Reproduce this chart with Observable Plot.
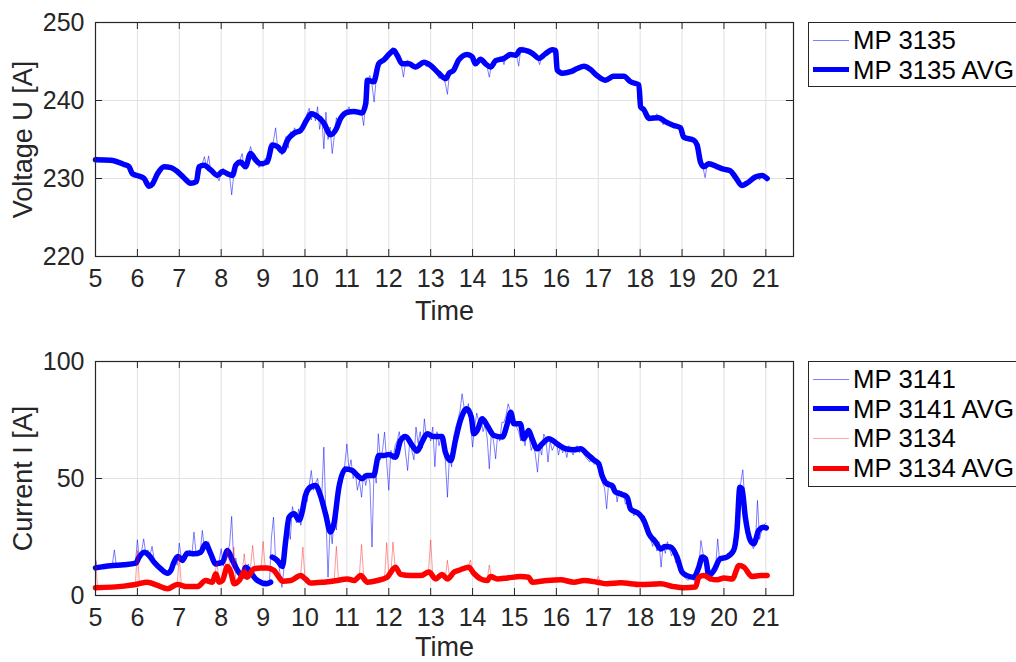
<!DOCTYPE html>
<html><head><meta charset="utf-8">
<script src="https://cdn.jsdelivr.net/npm/d3@7"></script>
<script src="https://cdn.jsdelivr.net/npm/@observablehq/plot@0.6"></script>
<style>
html,body{margin:0;padding:0;background:#fff;}
body{width:1016px;height:662px;overflow:hidden;position:relative;font-family:"Liberation Sans",Arial,Helvetica,sans-serif;}
.panel{position:absolute;left:0;}
.legend{position:absolute;left:808px;width:240px;border:1px solid #262626;background:#fff;box-sizing:border-box;}
.row{position:absolute;left:0;height:30px;width:240px;}
.swatch{position:absolute;left:4px;width:36px;top:50%;}
.label{position:absolute;left:44px;top:0;line-height:30px;font-size:25.8px;color:#000;white-space:nowrap;}
</style></head><body>
<div id="top" class="panel" style="top:0"></div>
<div id="bottom" class="panel" style="top:330px"></div>
<div id="legTop" class="legend" style="top:22px;height:65px"></div>
<div id="legBot" class="legend" style="top:361px;height:126px"></div>
<script>
// ---------- tick labels ----------
const xTicks = [5,6,7,8,9,10,11,12,13,14,15,16,17,18,19,20,21];
const voltTicks = [220,230,240,250];
const currTicks = [0,50,100];
const xLabel = "Time";
const voltLabel = "Voltage U [A]";
const currLabel = "Current I [A]";

// ---------- raw samples (every 3 minutes, 5:00 .. 21:00) ----------
const sampleTimes = d3.range(321).map(i => 5 + i / 20);

const mp3135Raw = [
232.9,232.3,232.5,232.4,232.3,232.5,232.4,232.3,232.2,232.4,232.2,232.1,232.0,231.9,231.8,231.7,231.6,231.5,231.0,230.6,
230.4,230.3,230.2,230.0,229.9,229.3,228.8,229.1,229.6,230.2,230.8,231.2,231.5,231.6,231.5,231.4,231.2,231.0,230.9,230.8,
230.6,230.4,230.1,229.9,229.7,229.4,229.3,229.4,229.6,229.7,230.8,231.9,232.8,231.4,232.9,231.0,230.7,230.5,230.2,229.7,
230.9,231.3,230.6,230.9,230.4,227.9,230.5,231.6,232.0,232.4,233.2,231.3,232.0,233.0,234.1,233.1,232.3,232.0,231.4,231.9,
231.5,232.6,232.0,232.8,233.5,234.9,236.5,233.8,234.3,233.0,234.4,235.4,233.9,236.0,235.2,236.5,235.9,236.0,236.6,237.1,
237.2,238.3,239.0,237.5,238.6,237.4,239.2,236.3,238.0,233.8,238.5,235.0,236.6,233.2,235.4,237.8,236.9,238.0,238.5,238.3,
238.4,239.2,238.5,238.9,238.3,238.7,238.2,238.6,236.8,239.8,242.7,243.2,242.0,239.8,242.8,244.6,245.0,244.8,245.4,245.8,
246.0,246.6,246.8,246.1,245.9,245.2,244.6,243.0,244.9,245.2,244.6,244.9,244.2,244.0,244.5,244.8,245.1,244.9,244.3,244.6,
244.5,244.2,243.9,243.4,242.8,243.3,242.9,242.2,240.8,243.6,243.5,243.8,244.3,244.9,245.4,245.6,246.1,245.7,246.0,245.6,
245.5,244.6,244.9,245.4,245.1,244.7,244.9,244.2,243.0,244.6,245.0,245.3,245.2,245.6,245.4,244.6,245.9,245.6,246.0,245.7,
246.0,245.8,244.4,246.6,246.9,246.4,246.6,246.3,246.1,245.9,245.8,245.4,244.6,245.6,245.8,246.1,246.3,246.6,246.8,246.3,
246.2,243.8,243.6,243.2,243.7,243.5,243.8,243.9,243.7,244.0,244.1,244.3,244.5,244.4,244.5,244.2,244.0,243.9,243.6,243.3,
243.2,242.7,243.0,242.3,242.9,243.0,243.2,243.4,243.1,242.8,243.3,243.0,243.2,242.9,242.5,242.3,242.3,242.1,242.2,241.8,
240.2,238.9,238.6,238.2,237.6,237.8,238.0,237.9,238.3,237.6,237.4,236.9,237.5,237.2,237.0,236.7,236.9,237.0,236.5,236.3,
235.7,235.1,235.0,234.8,235.0,234.9,234.6,234.2,233.0,231.8,231.4,230.1,231.8,232.0,231.7,231.8,231.6,231.5,231.3,231.2,
231.2,231.0,231.1,230.9,230.8,230.5,230.0,229.6,229.1,229.0,229.3,229.5,229.7,230.0,230.2,230.5,230.3,229.8,230.6,230.3,
230.0];

const mp3141Raw = [
15.5,11.2,12.0,11.6,12.4,11.9,12.8,12.2,13.0,19.5,12.4,13.1,12.6,12.9,13.3,12.8,13.5,13.0,14.0,13.4,
23.8,15.0,19.0,24.2,18.0,19.5,17.0,21.0,15.5,14.0,13.5,11.5,12.0,10.5,9.5,9.0,10.0,14.0,15.5,13.0,
22.4,16.0,14.5,16.5,18.0,19.5,17.0,27.1,18.0,19.0,18.5,27.8,20.0,22.0,23.0,19.0,17.5,14.0,12.5,14.5,
20.0,12.5,18.0,19.0,21.5,33.8,14.0,16.0,10.5,9.0,8.0,7.0,12.0,13.5,10.0,9.5,8.5,7.0,6.0,5.5,
5.0,6.5,5.0,4.5,24.9,33.5,14.0,16.0,10.0,3.5,12.0,28.0,30.0,24.0,38.0,34.0,31.0,37.0,30.0,35.0,
42.0,40.0,47.0,53.4,45.0,48.0,50.0,44.0,42.0,63.4,34.0,7.8,30.0,22.1,35.0,28.0,42.0,46.0,50.0,56.0,
64.8,54.0,58.0,50.0,53.0,45.0,49.0,42.0,52.0,47.0,52.0,48.0,20.7,55.0,48.0,69.1,58.0,62.0,69.8,57.0,
45.0,62.0,58.0,64.0,66.0,70.0,64.0,69.0,61.0,53.4,66.0,62.0,58.0,72.0,65.0,70.0,63.0,75.5,67.0,70.0,
66.0,72.0,55.0,70.0,64.0,68.0,62.0,58.0,42.0,60.0,55.0,68.0,72.0,75.0,79.0,86.2,80.0,78.0,82.0,74.0,
63.4,72.0,78.0,74.0,76.0,70.0,73.0,67.0,54.1,70.0,66.0,58.4,69.0,66.0,74.0,74.0,77.0,81.9,79.0,73.0,
75.0,72.0,70.0,66.0,73.0,64.0,70.0,68.0,62.0,65.0,60.0,52.7,64.0,60.0,69.0,67.0,57.0,66.0,62.0,64.0,
66.0,60.0,64.0,61.0,63.0,59.0,64.0,62.0,60.0,63.0,64.0,61.0,63.0,62.0,59.0,58.0,57.0,60.0,56.0,57.0,
55.0,52.0,48.0,46.0,37.0,49.0,46.0,44.0,47.0,40.0,45.0,42.0,43.0,39.0,41.0,36.0,37.0,34.0,36.0,35.0,
33.0,31.0,34.0,27.0,29.0,24.0,21.0,25.0,19.0,23.0,12.1,22.0,18.0,23.0,20.0,17.0,19.0,14.0,16.0,11.0,
10.0,8.0,7.0,6.5,8.0,7.0,6.0,9.0,12.0,23.5,18.0,16.0,14.0,6.0,8.0,10.0,12.0,24.2,14.0,15.0,
17.0,16.0,18.0,17.0,19.0,20.0,24.0,42.0,48.0,53.7,40.0,32.0,26.0,24.0,20.0,22.0,40.6,24.0,28.0,30.0,
31.0];

const mp3134Raw = [
16.0,3.0,3.5,3.2,3.8,3.4,3.9,3.6,4.0,3.7,4.2,3.9,4.3,4.0,4.5,4.2,4.6,4.4,4.8,4.5,
19.2,4.6,5.0,5.8,6.2,5.6,5.0,4.6,4.3,4.0,3.6,3.4,3.0,2.8,3.1,2.7,3.5,4.0,4.6,4.8,
17.1,4.2,4.0,3.8,4.2,3.6,3.9,3.7,4.0,4.4,5.2,6.0,6.8,7.5,6.0,5.5,6.2,9.5,14.0,6.0,
6.5,9.0,13.0,20.0,13.0,10.0,20.7,6.0,5.5,7.5,9.5,17.8,9.0,8.0,12.0,21.4,12.0,11.5,12.5,11.0,
23.1,12.0,11.5,12.2,11.0,10.0,9.0,7.5,7.0,6.0,6.5,5.8,7.0,6.5,7.5,8.5,9.0,8.0,9.5,20.7,
7.0,6.0,5.5,5.0,5.8,5.2,6.0,5.6,6.2,5.5,6.0,6.4,5.8,6.6,7.0,21.0,6.5,6.0,7.2,6.8,
7.2,6.5,7.0,6.2,7.5,8.0,9.0,21.8,8.5,7.5,6.0,5.5,6.0,5.8,6.5,6.2,7.0,6.8,7.5,22.6,
8.5,9.0,22.8,12.5,11.0,9.5,9.0,8.6,9.2,8.4,8.8,9.0,8.2,8.6,9.5,8.8,9.0,9.8,10.2,11.0,
23.8,8.0,7.2,7.8,8.5,9.2,8.8,7.4,15.0,7.8,8.5,9.8,10.4,10.8,11.2,11.0,11.6,12.2,12.0,15.2,
10.0,9.0,8.0,7.5,7.0,6.8,6.4,7.0,13.0,7.6,8.0,7.4,7.0,7.6,7.2,7.8,7.4,7.6,8.0,7.8,
8.2,7.8,8.4,7.6,8.0,8.2,7.8,8.0,7.6,5.8,6.0,5.6,6.2,6.4,6.0,6.6,6.2,6.8,6.4,6.6,
6.8,6.4,6.6,6.2,6.8,6.0,6.4,5.8,6.2,5.6,6.0,6.4,6.6,6.2,6.6,6.0,6.2,5.8,6.0,5.6,
8.2,5.6,5.2,5.0,5.4,5.0,5.6,5.2,5.4,5.8,5.2,5.6,5.0,5.4,5.2,4.8,5.0,5.2,4.6,5.0,
4.8,4.6,5.0,4.4,4.6,4.2,4.4,4.0,4.4,4.2,5.0,4.6,5.2,4.8,4.4,4.0,3.8,4.0,3.6,3.4,
3.2,3.4,3.0,3.6,3.2,3.5,3.8,3.4,7.0,8.8,8.4,8.0,7.2,7.8,6.6,7.0,6.8,7.6,6.4,7.2,
7.4,7.8,7.0,7.4,7.0,8.0,10.0,12.5,13.5,12.0,11.5,10.0,8.5,8.0,8.6,7.8,8.4,9.0,8.2,8.6,
8.4];

// ---------- moving averages ----------
const mp3135AvgT = [5.0,5.36,5.68,5.8,5.88,6.04,6.16,6.28,6.36,6.48,6.64,6.8,6.95,7.11,7.27,7.41,7.47,7.59,7.75,7.91,8.03,8.15,8.27,8.35,8.46,8.58,8.7,8.82,8.94,9.1,9.22,9.34,9.46,9.58,9.74,9.9,10.04,10.15,10.31,10.45,10.61,10.73,10.85,11.01,11.17,11.36,11.45,11.49,11.64,11.76,11.88,12.04,12.12,12.2,12.32,12.48,12.64,12.84,13.0,13.19,13.36,13.44,13.55,13.67,13.87,13.99,14.07,14.19,14.31,14.43,14.55,14.75,14.91,15.03,15.14,15.34,15.46,15.58,15.74,15.9,15.98,16.02,16.14,16.34,16.5,16.66,16.81,16.97,17.17,17.37,17.61,17.77,17.97,18.01,18.09,18.21,18.44,18.6,18.8,18.96,19.04,19.28,19.36,19.44,19.52,19.64,19.84,19.99,20.15,20.27,20.43,20.55,20.75,20.91,21.03];
const mp3135AvgV = [232.4,232.35,231.8,231.5,230.6,230.3,230.0,229.0,229.3,230.6,231.5,231.4,230.9,230.1,229.4,229.6,231.5,231.7,231.1,230.4,230.9,230.6,230.4,231.7,232.1,231.5,233.2,232.4,231.9,232.1,234.3,234.1,233.5,234.9,235.8,236.2,237.5,238.3,237.9,237.1,235.6,236.2,237.7,238.5,238.6,238.4,239.6,242.6,242.4,244.7,245.2,246.1,246.4,245.8,244.7,244.7,244.3,244.9,244.5,243.5,242.8,243.5,243.9,245.2,245.9,245.6,244.7,245.3,244.7,244.3,245.1,245.4,245.9,245.8,246.5,246.3,245.9,245.4,246.0,246.5,246.4,243.9,243.5,243.7,244.1,244.4,244.0,243.2,242.6,243.1,243.1,242.4,242.0,239.2,238.8,237.7,237.8,237.3,236.8,236.5,235.3,234.9,234.3,232.1,231.5,231.9,231.5,231.2,231.0,230.2,229.1,229.4,230.2,230.4,230.0];

const mp3141AvgT = [5.0,5.36,5.68,5.96,6.04,6.16,6.28,6.4,6.56,6.72,6.8,6.87,6.97,7.07,7.19,7.35,7.51,7.63,7.75,7.87,7.95,8.03,8.15,8.27,8.39,8.51,8.58,8.7,8.82,8.94,9.06,9.18,9.2,9.22,9.34,9.46,9.54,9.62,9.74,9.86,9.94,10.01,10.13,10.25,10.37,10.49,10.61,10.69,10.81,10.97,11.13,11.25,11.36,11.48,11.64,11.76,11.88,12.0,12.16,12.28,12.4,12.56,12.68,12.8,12.92,13.07,13.27,13.35,13.48,13.59,13.71,13.86,13.97,14.03,14.11,14.23,14.35,14.51,14.71,14.83,14.91,14.99,15.14,15.22,15.34,15.42,15.54,15.66,15.82,16.02,16.22,16.42,16.58,16.73,16.89,17.01,17.09,17.21,17.33,17.41,17.57,17.69,17.77,17.97,18.09,18.21,18.37,18.49,18.6,18.72,18.88,19.0,19.12,19.28,19.4,19.48,19.56,19.64,19.76,19.91,20.07,20.23,20.31,20.38,20.43,20.51,20.63,20.71,20.83,20.95,21.01];
const mp3141AvgV = [11.8,12.7,13.1,13.8,16.4,18.5,17.1,14.2,11.4,9.5,10.7,14.2,16.7,15.0,18.1,17.8,18.5,22.1,17.8,13.5,13.8,14.2,19.2,15.0,10.7,8.5,12.1,10.0,7.1,5.7,5.0,5.7,NaN,16.4,15.0,12.4,23.5,33.5,34.9,32.3,36.3,42.7,46.3,47.0,42.7,34.9,27.1,30.6,46.3,54.1,53.4,51.3,49.9,51.3,51.3,59.8,59.8,60.3,59.1,66.2,67.9,64.1,61.7,65.9,69.1,67.9,67.9,61.3,57.7,66.2,74.8,79.8,76.2,69.1,70.5,75.5,72.6,68.4,67.7,73.4,78.3,73.4,73.4,67.0,70.5,67.0,62.7,64.8,67.0,64.8,62.7,62.3,62.7,60.5,58.0,56.3,51.3,47.7,47.0,44.2,43.2,42.0,37.0,34.9,32.1,26.4,22.8,19.9,20.9,20.7,16.4,10.0,8.5,7.8,12.1,16.4,15.7,8.5,10.7,15.7,16.4,19.2,27.8,46.3,45.6,33.5,23.5,22.1,27.8,29.2,28.9];

const mp3134AvgT = [5.0,5.68,5.96,6.24,6.48,6.72,6.95,7.19,7.43,7.63,7.79,7.87,7.95,8.03,8.15,8.23,8.31,8.43,8.55,8.62,8.78,8.94,9.1,9.26,9.38,9.46,9.66,9.9,10.01,10.13,10.45,10.77,11.01,11.17,11.33,11.49,11.73,11.96,12.16,12.28,12.52,12.76,12.96,13.12,13.27,13.4,13.56,13.71,13.91,14.03,14.19,14.35,14.43,14.59,14.83,15.14,15.34,15.42,15.78,16.1,16.42,16.66,16.97,17.21,17.53,18.01,18.49,18.8,19.04,19.32,19.4,19.52,19.68,19.84,20.0,20.2,20.36,20.48,20.67,20.87,21.03];
const mp3134AvgV = [3.3,4.0,4.7,5.7,4.3,2.9,4.7,3.8,3.8,6.4,5.7,9.3,5.7,6.4,12.4,10.0,5.0,6.4,10.0,7.8,11.4,11.8,11.8,10.7,7.8,6.1,6.4,8.5,7.1,5.3,5.7,6.4,7.1,6.4,8.5,5.7,6.4,7.8,12.1,9.0,8.5,8.5,10.0,7.1,9.0,7.1,10.0,11.0,12.1,9.5,7.1,6.4,8.1,7.1,7.5,8.1,7.8,5.7,6.4,6.7,5.7,6.4,5.7,5.0,5.4,4.7,5.0,3.8,3.3,3.6,7.8,8.5,7.1,6.7,7.5,7.1,12.8,12.1,8.1,8.5,8.5];

// ---------- legend entries ----------
const legendTop = ["MP 3135", "MP 3135 AVG"];
const legendBottom = ["MP 3141", "MP 3141 AVG", "MP 3134", "MP 3134 AVG"];

// ---------- build tables ----------
const rows = (ts, vs) => ts.map((t, i) => ({t, v: vs[i]}));
const vRaw = rows(sampleTimes, mp3135Raw);
const vAvg = rows(mp3135AvgT, mp3135AvgV);
const bRaw = rows(sampleTimes, mp3141Raw);
const bAvg = rows(mp3141AvgT, mp3141AvgV);
const rRaw = rows(sampleTimes, mp3134Raw);
const rAvg = rows(mp3134AvgT, mp3134AvgV);

// ---------- styling ----------
const FONT = "'Liberation Sans', Arial, Helvetica, sans-serif";
const INK = "#262626";
const GRID = "#e1e1e1";
const BLUE = "#0000ff", RED = "#ff0000";
const xDomain = [5, 21.66];
const W = 800, ML = 95, MR = 7;
const TICKPX = 7;
const TICK_FS = 25;
const LABEL_FS = 27;

function panel({height, marginTop, marginBottom, yDomain, yTicks, yLabel, xLabelDy, lines}) {
  const plotH = height - marginTop - marginBottom;
  const plotW = W - ML - MR;
  const ty = TICKPX * (yDomain[1] - yDomain[0]) / plotH;
  const tx = TICKPX * (xDomain[1] - xDomain[0]) / plotW;
  const innerX = xTicks.filter(d => d > xDomain[0]);
  const innerY = yTicks.filter(d => d > yDomain[0] && d < yDomain[1]);
  return Plot.plot({
    width: W, height, marginLeft: ML, marginRight: MR, marginTop, marginBottom,
    x: {domain: xDomain},
    y: {domain: yDomain},
    style: {fontFamily: FONT, fontSize: TICK_FS + "px", color: INK, background: "white", overflow: "visible"},
    marks: [
      Plot.ruleX(innerX, {stroke: GRID, strokeWidth: 1}),
      Plot.ruleY(innerY, {stroke: GRID, strokeWidth: 1}),
      ...lines,
      Plot.ruleX(xTicks, {y1: yDomain[0], y2: yDomain[0] + ty, stroke: INK, strokeWidth: 1}),
      Plot.ruleX(xTicks, {y1: yDomain[1] - ty, y2: yDomain[1], stroke: INK, strokeWidth: 1}),
      Plot.ruleY(yTicks, {x1: xDomain[0], x2: xDomain[0] + tx, stroke: INK, strokeWidth: 1}),
      Plot.ruleY(yTicks, {x1: xDomain[1] - tx, x2: xDomain[1], stroke: INK, strokeWidth: 1}),
      Plot.frame({stroke: INK, strokeWidth: 1.2}),
      Plot.axisX(xTicks, {tickSize: 0, tickPadding: 13, label: null, fontSize: TICK_FS, fill: INK}),
      Plot.axisY(yTicks, {tickSize: 0, tickPadding: 11, label: null, fontSize: TICK_FS, fill: INK}),
      Plot.text([xLabel], {frameAnchor: "bottom", lineAnchor: "middle", textAnchor: "middle", dy: xLabelDy, fontSize: LABEL_FS, fill: INK}),
      Plot.text([yLabel], {frameAnchor: "left", rotate: -90, textAnchor: "middle", lineAnchor: "middle", dx: -72, fontSize: LABEL_FS, fill: INK})
    ]
  });
}

const rawLine = (data, color, op) => Plot.line(data, {x: "t", y: "v", stroke: color, strokeOpacity: op, strokeWidth: 1});
const avgLine = (data, color) => Plot.line(data, {x: "t", y: "v", stroke: color, strokeWidth: 5.5, curve: "monotone-x", strokeLinejoin: "round", strokeLinecap: "round"});

document.getElementById("top").append(panel({
  height: 330, marginTop: 22, marginBottom: 74, xLabelDy: 55,
  yDomain: [220, 250], yTicks: voltTicks, yLabel: voltLabel,
  lines: [rawLine(vRaw, BLUE, 0.5), avgLine(vAvg, BLUE)]
}));

document.getElementById("bottom").append(panel({
  height: 332, marginTop: 31, marginBottom: 67, xLabelDy: 51.5,
  yDomain: [0, 100], yTicks: currTicks, yLabel: currLabel,
  lines: [rawLine(bRaw, BLUE, 0.5), avgLine(bAvg, BLUE), rawLine(rRaw, RED, 0.4), avgLine(rAvg, RED)]
}));

// ---------- legends ----------
function legend(el, names, styles) {
  names.forEach((name, i) => {
    const row = document.createElement("div");
    row.className = "row";
    row.style.top = (2 + i * 29.7) + "px";
    const sw = document.createElement("div");
    sw.className = "swatch";
    sw.style.height = styles[i].h + "px";
    sw.style.marginTop = (-styles[i].h / 2) + "px";
    sw.style.background = styles[i].c;
    const lab = document.createElement("span");
    lab.className = "label";
    lab.textContent = name;
    row.append(sw, lab);
    el.append(row);
  });
}
legend(document.getElementById("legTop"), legendTop, [{c: "rgba(0,0,255,0.5)", h: 1}, {c: BLUE, h: 5}]);
legend(document.getElementById("legBot"), legendBottom, [
  {c: "rgba(0,0,255,0.5)", h: 1}, {c: BLUE, h: 5}, {c: "rgba(255,0,0,0.35)", h: 1}, {c: RED, h: 5}
]);
</script>
</body></html>
